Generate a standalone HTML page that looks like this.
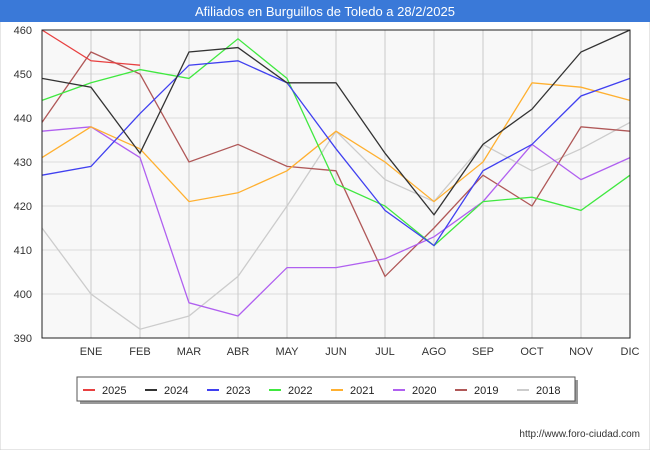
<!DOCTYPE html>
<html><head><meta charset="utf-8"><style>
body{margin:0;width:650px;height:450px;background:#fff;font-family:"Liberation Sans",sans-serif;overflow:hidden}
</style></head><body>
<svg width="650" height="450">
<rect x="0" y="0" width="650" height="450" fill="#fff" stroke="#ccc"/>
<rect x="0" y="0" width="650" height="22" fill="#3a79d8"/>
<text x="325" y="16" text-anchor="middle" fill="#fff" font-size="13">Afiliados en Burguillos de Toledo a 28/2/2025</text>
<rect x="42" y="30" width="588" height="308" fill="#f8f8f8"/>
<g id="bands"></g><g id="grid"></g><g id="axes"></g><g id="lines"></g>
<rect x="42" y="30" width="588" height="308" fill="none" stroke="#222"/>
<rect x="80" y="380" width="498" height="24" fill="#999"/>
<rect x="77" y="377" width="498" height="24" fill="#fff" stroke="#555"/>
<g id="legend"></g>
<text x="640" y="437" text-anchor="end" font-size="10" fill="#333">http://www.foro-ciudad.com</text>
</svg>
<script>
const months=["","ENE","FEB","MAR","ABR","MAY","JUN","JUL","AGO","SEP","OCT","NOV","DIC"];
const yTicks=[390,400,410,420,430,440,450,460];
const seriesNames=["2025","2024","2023","2022","2021","2020","2019","2018"];
const colors=["#e84040","#333333","#4040f0","#40e840","#ffb030","#b060f0","#b05858","#cccccc"];
const s2025=[460,453,452];
const s2024=[449,447,432,455,456,448,448,432,418,434,442,455,460];
const s2023=[427,429,441,452,453,448,433,419,411,428,434,445,449];
const s2022=[444,448,451,449,458,449,425,420,411,421,422,419,427];
const s2021=[431,438,433,421,423,428,437,430,421,430,448,447,444];
const s2020=[437,438,431,398,395,406,406,408,413,421,434,426,431];
const s2019=[439,455,450,430,434,429,428,404,415,427,420,438,437];
const s2018=[415,400,392,395,404,420,437,426,421,434,428,433,439];
const data=[s2025,s2024,s2023,s2022,s2021,s2020,s2019,s2018];
const NS="http://www.w3.org/2000/svg";
const X0=42,X1=630,Y0=338,Y1=30;
const xs=i=>X0+i*(X1-X0)/12;
const ys=v=>Y0-(v-390)*(Y0-Y1)/70;
function mk(p,t,a){const e=document.createElementNS(NS,t);for(const k in a)e.setAttribute(k,a[k]);document.getElementById(p).appendChild(e);return e;}
yTicks.forEach(v=>{
 const l=mk("grid","line",{x1:X0,x2:X1,y1:ys(v),y2:ys(v),stroke:"#dcdcdc"});
 
 
 const t=mk("axes","text",{x:X0-10,y:ys(v)+4,"text-anchor":"end","font-size":"11",fill:"#333"});
 t.textContent=v;
 
 
});
months.forEach((m,i)=>{
 if(i>0){const l=mk("grid","line",{x1:xs(i),x2:xs(i),y1:Y1,y2:Y0,stroke:"#cacaca"});
 
 }
 const t=mk("axes","text",{x:xs(i),y:Y0+17,"text-anchor":"middle","font-size":"11",fill:"#333"});
 t.textContent=m;
 
 
});
for(let k=data.length-1;k>=0;k--){
 const pts=data[k].map((v,i)=>xs(i)+","+ys(v)).join(" ");
 const p=mk("lines","polyline",{points:pts,fill:"none",stroke:colors[k],"stroke-width":"1.3"});
 
 
}
seriesNames.forEach((n,k)=>{
 const x=83+k*62;
 const l=mk("legend","line",{x1:x,x2:x+12,y1:390,y2:390,stroke:colors[k],"stroke-width":"2"});
 
 
 const t=mk("legend","text",{x:x+19,y:394,"font-size":"11",fill:"#222"});
 t.textContent=n;
 
 
});
</script>
</body></html>
